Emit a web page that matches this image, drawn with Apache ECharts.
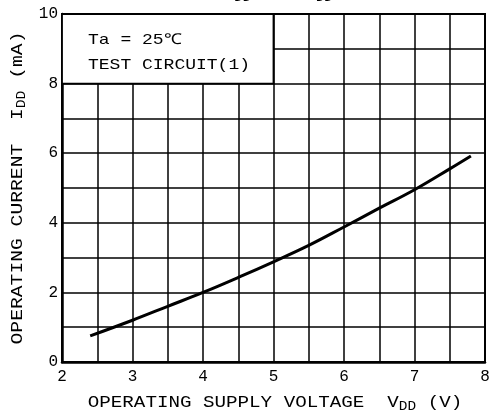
<!DOCTYPE html>
<html>
<head>
<meta charset="utf-8">
<script src="https://cdn.jsdelivr.net/npm/echarts@6/dist/echarts.min.js"></script>
<style>html,body{margin:0;padding:0;background:#fff;}#c{width:489px;height:415px;}</style>
</head>
<body>
<div id="c"></div>
<script>
// Data: I_DD (mA) vs V_DD (V)
const vdd = [2.4, 3.0, 3.5, 4.0, 4.5, 5.0, 5.5, 6.0, 6.5, 7.0, 7.5, 7.8];
const idd = [0.75, 1.2, 1.6, 2.0, 2.43, 2.88, 3.35, 3.88, 4.42, 4.95, 5.55, 5.92];
const xTicks = [2, 3, 4, 5, 6, 7, 8];
const yTicks = [0, 2, 4, 6, 8, 10];
const noteBox = [[2, 10], [5, 8]];
const noteLines = ['Ta = 25℃', 'TEST CIRCUIT(1)'];
const xName = 'OPERATING SUPPLY VOLTAGE  V{s|DD} (V)';
const yName = 'OPERATING CURRENT  I{s|DD} (mA)';
const titleText = 'I{s|DD}  −  V{s|DD}';

const FONT = '"Liberation Mono", "DejaVu Sans Mono", monospace';
const chart = echarts.init(document.getElementById('c'), null, {renderer: 'canvas'});
const lineStyle = {color: '#000', width: 1.5};
const subRich = {s: {font: '12px ' + FONT, fill: '#000', padding: [0, 0, -7, 0]}};

chart.setOption({
  animation: false,
  backgroundColor: '#fff',
  grid: {left: 62, right: 4, top: 14, bottom: 53, outerBoundsMode: 'none', containLabel: false,
         show: true, borderColor: '#000', borderWidth: 2, backgroundColor: 'transparent'},
  xAxis: {
    type: 'value', min: 2, max: 8, interval: 0.5,
    axisLine: {show: true, lineStyle: {color: '#000', width: 2.5}},
    axisTick: {show: false},
    splitLine: {show: true, lineStyle: lineStyle},
    axisLabel: {
      color: '#000', fontFamily: FONT, fontSize: 16, margin: 7,
      formatter: v => xTicks.indexOf(v) >= 0 ? String(v) : ''
    }
  },
  yAxis: {
    type: 'value', min: 0, max: 10, interval: 1,
    axisLine: {show: true, lineStyle: {color: '#000', width: 2.5}},
    axisTick: {show: false},
    splitLine: {show: true, lineStyle: lineStyle},
    axisLabel: {
      color: '#000', fontFamily: FONT, fontSize: 16, margin: 4,
      formatter: v => yTicks.indexOf(v) >= 0 ? String(v) : ''
    }
  },
  graphic: [
    {type: 'text', x: 88, y: 40, z: 100, scaleX: 1.2,
     style: {text: noteLines[0], font: '15px ' + FONT, fill: '#000', verticalAlign: 'middle'}},
    {type: 'text', x: 88, y: 65, z: 100, scaleX: 1.2,
     style: {text: noteLines[1], font: '15px ' + FONT, fill: '#000', verticalAlign: 'middle'}},
    {type: 'text', x: 275, y: 403, z: 100, scaleX: 1.2,
     style: {text: xName, font: '16px ' + FONT, fill: '#000', align: 'center', verticalAlign: 'middle', rich: subRich}},
    {type: 'text', x: 18, y: 188, z: 100, rotation: Math.PI / 2, scaleX: 1.23,
     style: {text: yName, font: '16px ' + FONT, fill: '#000', align: 'center', verticalAlign: 'middle', rich: subRich}},
    {type: 'text', left: 224, top: -16, z: 100, style: {
      text: titleText, font: 'italic 18px ' + FONT, fill: '#000',
      rich: {s: {font: 'italic 14px ' + FONT, fill: '#000', padding: [0, 0, -8, 0]}}
    }}
  ],
  series: [{
    type: 'line',
    data: vdd.map((v, i) => [v, idd[i]]),
    smooth: 0.4,
    symbol: 'none',
    lineStyle: {color: '#000', width: 3},
    z: 10,
    markArea: {
      silent: true,
      itemStyle: {color: '#fff', opacity: 1, borderColor: '#000', borderWidth: 1.8},
      data: [[{coord: noteBox[0]}, {coord: noteBox[1]}]]
    }
  }]
});
</script>
</body>
</html>
